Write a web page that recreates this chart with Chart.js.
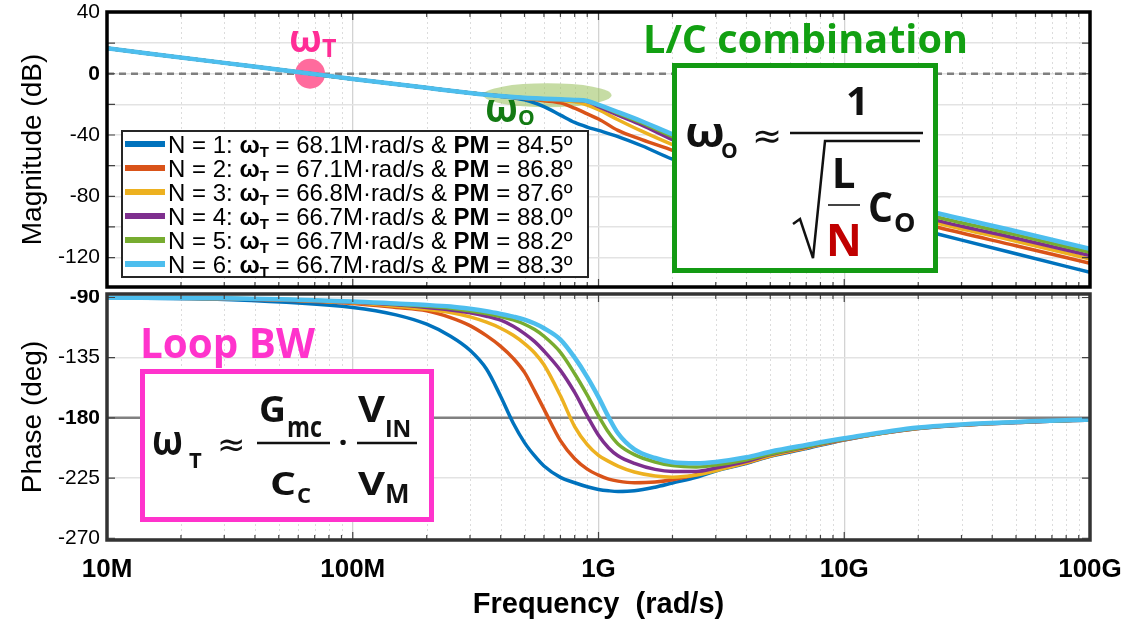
<!DOCTYPE html>
<html lang="en">

<head>
    <meta charset="UTF-8">
    <script src="https://cdn.jsdelivr.net/npm/chart.js"></script>
    <title>Bode plot</title>
    <style>
        body { margin: 0; background: #fff; }
        #wrap { position: relative; width: 1130px; height: 624px; overflow: hidden; }
        #mag { position: absolute; left: 0; top: 0; }
        #phase { position: absolute; left: 0; top: 290px; }
        #overlay { position: absolute; left: 0; top: 0; }
        .cal { font-family: 'Open Sans', 'Noto Sans', sans-serif; font-weight: bold; }
        .sym { font-family: 'DejaVu Sans', sans-serif; }
    </style>
</head>

<body>
<div id="wrap">
    <canvas id="mag" width="1130" height="290"></canvas>
    <canvas id="phase" width="1130" height="334"></canvas>

    <svg id="overlay" width="1130" height="624" xmlns="http://www.w3.org/2000/svg">
        <!-- annotation labels -->
        <text class="cal" x="289" y="52" font-size="38" textLength="33" lengthAdjust="spacingAndGlyphs" fill="#ff2d96">ω</text>
        <text class="cal" x="322" y="57" font-size="25" fill="#ff2d96">T</text>

        <text class="cal" x="485" y="122" font-size="40" textLength="33" lengthAdjust="spacingAndGlyphs" fill="#137a13">ω</text>
        <text class="cal" x="518" y="125" font-size="21" fill="#137a13">O</text>

        <text class="cal" x="643" y="53" font-size="39" textLength="325" lengthAdjust="spacingAndGlyphs" fill="#12a012">L/C combination</text>

        <!-- L/C box -->
        <rect x="674.5" y="65.5" width="261" height="205" fill="#fff" stroke="#139a13" stroke-width="5"/>
        <text class="cal" x="685" y="147" font-size="42" textLength="40" lengthAdjust="spacingAndGlyphs" fill="#111">ω</text>
        <text class="cal" x="721" y="158" font-size="21" fill="#111">O</text>
        <text class="sym" x="752" y="148" font-size="36" fill="#111">≈</text>
        <line x1="790" y1="133" x2="923" y2="133" stroke="#111" stroke-width="2.5"/>
        <text class="cal" x="857.5" y="115" font-size="40" text-anchor="middle" fill="#111">1</text>
        <path d="M793,224 L800,219 L813,258 L825,141 L920,141" fill="none" stroke="#111" stroke-width="2.5"/>
        <text class="cal" x="843.5" y="188" font-size="42" text-anchor="middle" fill="#111">L</text>
        <line x1="828" y1="205" x2="860" y2="205" stroke="#444" stroke-width="2"/>
        <text class="cal" x="844" y="256" font-size="44" text-anchor="middle" fill="#c00000">N</text>
        <text class="cal" x="868" y="222" font-size="42" textLength="25" lengthAdjust="spacingAndGlyphs" fill="#111">C</text>
        <text class="cal" x="894" y="232" font-size="27" fill="#111">O</text>

        <!-- Loop BW box -->
        <text class="cal" x="140" y="358" font-size="42" textLength="175" lengthAdjust="spacingAndGlyphs" fill="#ff33cc">Loop BW</text>
        <rect x="142.5" y="371.5" width="289" height="148" fill="#fff" stroke="#ff33cc" stroke-width="5"/>
        <text class="cal" x="152" y="455" font-size="41" textLength="31" lengthAdjust="spacingAndGlyphs" fill="#111">ω</text>
        <text class="cal" x="189" y="468" font-size="22" fill="#111">T</text>
        <text class="sym" x="217" y="456" font-size="34" fill="#111">≈</text>
        <line x1="257" y1="443" x2="330" y2="443" stroke="#111" stroke-width="2.5"/>
        <text class="cal" x="259" y="422" font-size="35" textLength="27" lengthAdjust="spacingAndGlyphs" fill="#111">G</text>
        <text class="cal" x="287" y="437" font-size="28" textLength="35" lengthAdjust="spacingAndGlyphs" fill="#111">mc</text>
        <text class="cal" x="270" y="495" font-size="33" textLength="26" lengthAdjust="spacingAndGlyphs" fill="#111">C</text>
        <text class="cal" x="297" y="503" font-size="22" fill="#111">C</text>
        <text class="cal" x="343" y="454" font-size="32" text-anchor="middle" fill="#111">·</text>
        <line x1="357" y1="443" x2="417" y2="443" stroke="#111" stroke-width="2.5"/>
        <text class="cal" x="358" y="422" font-size="35" textLength="27" lengthAdjust="spacingAndGlyphs" fill="#111">V</text>
        <text class="cal" x="385" y="437" font-size="23" fill="#111">IN</text>
        <text class="cal" x="358" y="495" font-size="33" textLength="27" lengthAdjust="spacingAndGlyphs" fill="#111">V</text>
        <text class="cal" x="385" y="503" font-size="26" fill="#111">M</text>

        <g id="legend"></g>
    </svg>
</div>

<script>

    // ---- data ----
    const nValues = [1, 2, 3, 4, 5, 6];
    const wtLabels = ['68.1M', '67.1M', '66.8M', '66.7M', '66.7M', '66.7M'];
    const pmLabels = ['84.5', '86.8', '87.6', '88.0', '88.2', '88.3'];

    const freqDecades = [1e7, 1e8, 1e9, 1e10, 1e11];
    const freqLabels = ['10M', '100M', '1G', '10G', '100G'];

    const magTicks = [40, 20, 0, -20, -40, -60, -80, -100, -120];
    const magTickLabels = ['40', '', '0', '', '-40', '', '-80', '', '-120'];
    const phaseTicks = [-90, -135, -180, -225, -270];
    const phaseTickLabels = ['-90', '-135', '-180', '-225', '-270'];
    const boldTicks = [0, -90, -180];

    // magnitude (dB)
    const magFreq = [1e7, 3e7, 6.8e7, 1e8, 2e8, 3e8, 4e8, 5e8, 6e8, 7e8, 8e8, 9e8, 1e9, 1.2e9, 1.5e9, 2e9, 3e9, 5e9, 1e10, 2.4e10, 5e10, 1e11];
    const magN1 = [16.6, 7.1, 0, -3.4, -9.2, -12.5, -14.8, -17, -21.5, -27, -31.8, -34.8, -37, -41, -47, -55.8, -65.7, -76.3, -89.2, -104.6, -117.5, -129.6];
    const magN2 = [16.6, 7.1, 0, -3.4, -9.2, -12.5, -14.6, -16.2, -17.6, -19, -22.5, -26.2, -29.5, -37, -43, -50, -60.5, -71.5, -84.5, -100.2, -112.3, -123.7];
    const magN3 = [16.6, 7.1, 0, -3.4, -9.2, -12.5, -14.5, -16, -16.8, -17.3, -18.3, -20.5, -23.5, -30, -37.5, -46.3, -57, -68.5, -81.5, -97.6, -109.3, -120.9];
    const magN4 = [16.6, 7.1, 0, -3.4, -9.2, -12.5, -14.5, -15.9, -16.6, -17, -17.4, -18.2, -21.5, -27, -33.5, -43, -54.5, -66.3, -79.3, -95.9, -107.4, -118.7];
    const magN5 = [16.6, 7.1, 0, -3.4, -9.2, -12.5, -14.5, -15.8, -16.4, -16.8, -17.2, -17.9, -20.5, -25.8, -32, -41, -52.5, -64.5, -77.5, -93.7, -105.2, -116.5];
    const magN6 = [16.6, 7.1, 0, -3.4, -9.2, -12.5, -14.5, -15.7, -16.3, -16.7, -17.1, -17.8, -20.3, -25, -31, -39.5, -50.5, -62.5, -75.5, -91.1, -102.8, -114.3];

    // phase (deg)
    const phaseFreq = [1e7, 3e7, 1e8, 1.5e8, 2e8, 2.5e8, 3e8, 3.5e8, 4e8, 4.5e8, 5e8, 5.5e8, 6e8, 7e8, 8e8, 9e8, 1e9, 1.1e9, 1.2e9, 1.4e9, 1.7e9, 2e9, 2.5e9, 3e9, 4e9, 5e9, 7e9, 1e10, 2e10, 5e10, 1e11];
    const phaseN1 = [-90.3, -91.5, -97.5, -103, -110, -119, -129.5, -143.5, -164, -184, -198.5, -208.5, -216, -224.5, -228.5, -231.5, -233.5, -234.5, -235, -234.5, -231.8, -228.7, -224.5, -219.7, -214, -208.7, -203, -196.5, -188, -183.5, -181.5];
    const phaseN2 = [-90.2, -91, -94.5, -97.5, -100, -105, -111, -118.5, -126.5, -135.5, -146, -160, -173.5, -197, -210.5, -218.3, -222.8, -225.8, -227.3, -228.5, -228, -226.3, -222.5, -219, -213.5, -208.5, -202.5, -196.3, -187.9, -183.5, -181.5];
    const phaseN3 = [-90.2, -90.8, -94, -96.5, -98.8, -101.3, -104.5, -108.5, -113, -118.3, -124.5, -131.5, -140.3, -163.5, -186.5, -200, -208, -212.5, -216, -220.5, -223.5, -224.3, -222.7, -219.5, -213.5, -208.3, -202.3, -196.2, -187.7, -183.3, -181.4];
    const phaseN4 = [-90.2, -90.7, -93.5, -95.5, -97.5, -99.3, -101.5, -104, -107, -111.5, -117, -123, -130, -144.5, -161, -178.5, -193, -202.5, -208.3, -214, -218.5, -220, -220, -217.5, -212.5, -207.5, -201.8, -196, -187.6, -183.2, -181.4];
    const phaseN5 = [-90.2, -90.6, -93.2, -95, -96.5, -98, -100, -102, -104.3, -106.8, -110, -114, -119, -131, -147, -163, -178.5, -191, -199.5, -207.5, -213, -215.7, -216.7, -215.3, -211.3, -207, -201.5, -195.8, -187.5, -183.1, -181.4];
    const phaseN6 = [-90.2, -90.5, -93, -94.5, -95.6, -96.8, -98.5, -100.3, -102.3, -104.3, -106.5, -109.5, -113, -121.5, -135, -149.5, -164.5, -179.5, -191.5, -203.5, -210, -213.2, -214, -213, -209.5, -205.3, -200.3, -195.3, -187.2, -183, -181.3];

    const magSeries = [magN1, magN2, magN3, magN4, magN5, magN6];
    const phaseSeries = [phaseN1, phaseN2, phaseN3, phaseN4, phaseN5, phaseN6];

    const lineColors = ['#0072BD', '#D95319', '#EDB120', '#7E2F8E', '#77AC30', '#4DBEEE'];
    const fontFam = "'Liberation Sans', Arial, sans-serif";


    // ---- helpers ----
    const isDecade = v => freqDecades.includes(v);

    function logTicks() {
        const t = [];
        freqDecades.forEach((d, i) => {
            t.push({ value: d });
            if (i < freqDecades.length - 1) {
                for (let k = 2; k <= 9; k++) t.push({ value: k * d });
            }
        });
        return t;
    }

    function noPad(s) {
        s.paddingTop = 0;
        s.paddingBottom = 0;
        s.paddingLeft = 0;
        s.paddingRight = 0;
    }

    function makeSets(freqs, series) {
        return series.map((vals, i) => ({
            label: 'N = ' + nValues[i],
            data: freqs.map((f, j) => ({ x: f, y: vals[j] })),
            borderColor: lineColors[i],
            borderWidth: i === series.length - 1 ? 4.5 : 3.5,
            pointRadius: 0,
            fill: false,
            cubicInterpolationMode: 'monotone',
            order: series.length - i
        }));
    }

    // frame, inner ticks, dotted minor grid, reference line and marks
    function makeFrame(cfg) {
        return {
            id: 'bodeFrame',
            beforeDatasetsDraw(chart) {
                const { ctx, chartArea: a, scales: { x, y } } = chart;
                ctx.save();
                ctx.strokeStyle = '#dcdcdc';
                ctx.lineWidth = 1;
                ctx.setLineDash([2, 3]);
                x.ticks.forEach(t => {
                    if (isDecade(t.value)) return;
                    const px = Math.round(x.getPixelForValue(t.value)) + 0.5;
                    ctx.beginPath(); ctx.moveTo(px, a.top); ctx.lineTo(px, a.bottom); ctx.stroke();
                });

                ctx.setLineDash(cfg.refDash);
                ctx.strokeStyle = cfg.refColor;
                ctx.lineWidth = 2.5;
                const py = y.getPixelForValue(cfg.refValue);
                ctx.beginPath(); ctx.moveTo(a.left, py); ctx.lineTo(a.right, py); ctx.stroke();

                ctx.setLineDash([]);
                (cfg.marks || []).forEach(m => {
                    ctx.fillStyle = m.color;
                    ctx.beginPath();
                    ctx.ellipse(x.getPixelForValue(m.x), y.getPixelForValue(m.y), m.rx, m.ry, 0, 0, Math.PI * 2);
                    ctx.fill();
                });
                ctx.restore();
            },
            afterDraw(chart) {
                const { ctx, chartArea: a, scales: { x, y } } = chart;
                ctx.save();
                ctx.strokeStyle = '#444';
                ctx.lineWidth = 1.2;
                x.ticks.forEach(t => {
                    const px = x.getPixelForValue(t.value);
                    const len = isDecade(t.value) ? 8 : 5;
                    ctx.beginPath();
                    ctx.moveTo(px, a.top); ctx.lineTo(px, a.top + len);
                    ctx.moveTo(px, a.bottom); ctx.lineTo(px, a.bottom - len);
                    ctx.stroke();
                });
                y.ticks.forEach(t => {
                    const py = y.getPixelForValue(t.value);
                    ctx.beginPath();
                    ctx.moveTo(a.left, py); ctx.lineTo(a.left + 8, py);
                    ctx.moveTo(a.right, py); ctx.lineTo(a.right - 8, py);
                    ctx.stroke();
                });
                ctx.strokeStyle = cfg.frameColor;
                ctx.lineWidth = 3.5;
                ctx.strokeRect(a.left, a.top, a.right - a.left, a.bottom - a.top);
                ctx.restore();
            }
        };
    }

    function xScale(showLabels) {
        return {
            type: 'logarithmic',
            min: 1e7,
            max: 1e11,
            afterBuildTicks: s => { s.ticks = logTicks(); },
            afterFit: s => { s.height = showLabels ? 84 : 0; noPad(s); },
            grid: {
                drawTicks: false,
                lineWidth: 1.3,
                color: c => (c.tick && isDecade(c.tick.value)) ? '#d3d3d3' : 'rgba(0,0,0,0)'
            },
            border: { display: false },
            ticks: {
                display: showLabels,
                autoSkip: false,
                maxRotation: 0,
                padding: 14,
                color: '#000',
                font: { family: fontFam, size: 26, weight: 'bold' },
                callback: v => {
                    const i = freqDecades.indexOf(v);
                    return i >= 0 ? freqLabels[i] : '';
                }
            },
            title: {
                display: showLabels,
                text: 'Frequency  (rad/s)',
                color: '#000',
                font: { family: fontFam, size: 29, weight: 'bold' },
                padding: { top: 0, bottom: 2 }
            }
        };
    }

    function yScale(min, max, tickVals, tickLabels, title) {
        return {
            min: min,
            max: max,
            afterBuildTicks: s => { s.ticks = tickVals.map(v => ({ value: v })); },
            afterFit: s => { s.width = 107; noPad(s); },
            grid: { drawTicks: false, color: '#e3e3e3', lineWidth: 1.5 },
            border: { display: false },
            ticks: {
                padding: 7,
                color: '#000',
                font: c => ({ family: fontFam, size: 21, weight: (c.tick && boldTicks.includes(c.tick.value)) ? 'bold' : 'normal' }),
                callback: v => tickLabels[tickVals.indexOf(v)]
            },
            title: {
                display: true,
                text: title,
                color: '#000',
                font: { family: fontFam, size: 28 },
                padding: { top: 16, bottom: 0 }
            }
        };
    }


    // ---- magnitude chart ----
    const graficoMag = new Chart(document.getElementById('mag'), {
        type: 'line',
        data: { datasets: makeSets(magFreq, magSeries) },
        options: {
            responsive: false,
            animation: false,
            events: [],
            layout: { padding: { top: 12, right: 40, bottom: 3, left: 0 } },
            plugins: { legend: { display: false }, tooltip: { enabled: false } },
            scales: {
                x: xScale(false),
                y: yScale(-139.2, 40.3, magTicks, magTickLabels, 'Magnitude (dB)')
            }
        },
        plugins: [makeFrame({
            refValue: 0,
            refDash: [7, 5],
            refColor: '#7f7f7f',
            frameColor: '#000',
            marks: [
                { x: 6.2e8, y: -14, rx: 64, ry: 12, color: 'rgba(160,196,104,0.6)' },
                { x: 6.7e7, y: 0, rx: 15, ry: 15, color: '#ff6b9d' }
            ]
        })]
    });

    // ---- phase chart ----
    const graficoPhase = new Chart(document.getElementById('phase'), {
        type: 'line',
        data: { datasets: makeSets(phaseFreq, phaseSeries) },
        options: {
            responsive: false,
            animation: false,
            events: [],
            layout: { padding: { top: 4, right: 40, bottom: 0, left: 0 } },
            plugins: { legend: { display: false }, tooltip: { enabled: false } },
            scales: {
                x: xScale(true),
                y: yScale(-271.3, -87.4, phaseTicks, phaseTickLabels, 'Phase (deg)')
            }
        },
        plugins: [makeFrame({
            refValue: -180,
            refDash: [],
            refColor: '#808080',
            frameColor: '#333'
        })]
    });


    // ---- legend (svg, so the bold subscripts stay real text) ----
    const NS = 'http://www.w3.org/2000/svg';
    const leg = document.getElementById('legend');

    function el(tag, attrs, text) {
        const e = document.createElementNS(NS, tag);
        Object.keys(attrs).forEach(k => e.setAttribute(k, attrs[k]));
        if (text !== undefined) e.textContent = text;
        return e;
    }

    leg.appendChild(el('rect', { x: 122, y: 131, width: 466, height: 146, fill: '#fff', stroke: '#262626', 'stroke-width': 2 }));

    nValues.forEach((n, i) => {
        const cy = 144 + 24 * i;
        leg.appendChild(el('line', { x1: 125, y1: cy, x2: 165, y2: cy, stroke: lineColors[i], 'stroke-width': 6 }));
        const t = el('text', { x: 168, y: cy + 8.5, 'font-size': 24, fill: '#000', style: 'white-space:pre;font-family:' + fontFam });
        t.appendChild(el('tspan', {}, 'N = ' + n + ': '));
        t.appendChild(el('tspan', { 'font-weight': 'bold' }, 'ω'));
        t.appendChild(el('tspan', { 'font-weight': 'bold', 'font-size': 15, dy: 4 }, 'T'));
        t.appendChild(el('tspan', { dy: -4 }, ' = ' + wtLabels[i] + '·rad/s & '));
        t.appendChild(el('tspan', { 'font-weight': 'bold' }, 'PM'));
        t.appendChild(el('tspan', {}, ' = ' + pmLabels[i] + 'º'));
        leg.appendChild(t);
    });

</script>

</body>

</html>
